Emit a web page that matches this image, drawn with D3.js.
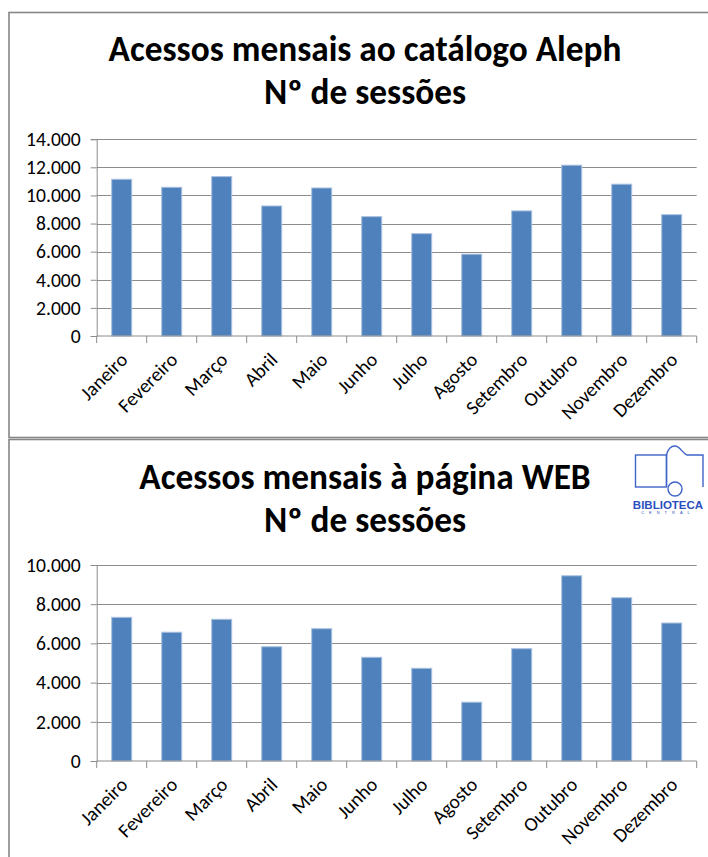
<!DOCTYPE html>
<html>
<head>
<meta charset="utf-8">
<script src="https://cdn.jsdelivr.net/npm/d3@7"></script>
<style>
    body { margin: 0; background: #fff; }
    svg { display: block; }
</style>
</head>
<body>
<svg id="chart" width="708" height="857"></svg>
<script>
const months = ['Janeiro', 'Fevereiro', 'Março', 'Abril', 'Maio', 'Junho',
    'Julho', 'Agosto', 'Setembro', 'Outubro', 'Novembro', 'Dezembro'];
const alephSessions = [11150, 10580, 11340, 9250, 10530, 8490, 7280, 5820, 8900, 12150, 10800, 8630];
const webSessions = [7330, 6570, 7230, 5830, 6750, 5290, 4730, 3000, 5730, 9450, 8330, 7040];
const alephTicks = [0, 2000, 4000, 6000, 8000, 10000, 12000, 14000];
const webTicks = [0, 2000, 4000, 6000, 8000, 10000];
const alephTitle = ['Acessos mensais ao catálogo Aleph', 'Nº de sessões'];
const webTitle = ['Acessos mensais à página WEB', 'Nº de sessões'];

// Carlito is metric-compatible with Calibri
const FONT = 'Carlito, Lato, sans-serif';
const BAR = '#4f81bd';
const GRID = '#8c8c8c';

let pt = d3.formatLocale({ decimal: ',', thousands: '.', grouping: [3], currency: ['', ''] });
let fmt = pt.format(',d');

let svg = d3.select('#chart');

// chart frames (both run off the right edge, the lower one off the bottom)
svg.append('rect')
    .attr('x', 9).attr('y', 12.5).attr('width', 730).attr('height', 425)
    .attr('fill', 'none').attr('stroke', '#868686').attr('stroke-width', 1.6);
svg.append('rect')
    .attr('x', 9).attr('y', 439.5).attr('width', 730).attr('height', 440)
    .attr('fill', 'none').attr('stroke', '#868686').attr('stroke-width', 1.6);

drawChart(svg.append('g'), {
    title: alephTitle, titleY: 61, values: alephSessions, ticks: alephTicks,
    top: 139.2, bottom: 336
});
drawChart(svg.append('g'), {
    title: webTitle, titleY: 489, values: webSessions, ticks: webTicks,
    top: 565, bottom: 761
});
drawLogo(svg.append('g').attr('transform', 'translate(635,445)'));

function drawChart(g, cfg) {
    let left = 96.7, right = 696.7;

    g.selectAll('.title')
        .data(cfg.title)
        .join('text')
        .attr('class', 'title')
        .attr('x', 365)
        .attr('y', (d, i) => cfg.titleY + i * 43)
        .attr('text-anchor', 'middle')
        .style('font-family', FONT)
        .style('font-weight', 'bold')
        .style('font-size', '35.3px')
        .attr('fill', '#000')
        .text(d => d);

    let x = d3.scaleBand()
        .domain(months)
        .range([left, right])
        .paddingInner(0.6)
        .paddingOuter(0.3);
    let y = d3.scaleLinear()
        .domain([0, d3.max(cfg.ticks)])
        .range([cfg.bottom, cfg.top]);

    // gridlines
    g.append('g')
        .selectAll('line')
        .data(cfg.ticks.filter(t => t > 0))
        .join('line')
        .attr('x1', left).attr('x2', right)
        .attr('y1', d => Math.round(y(d)) + 0.5)
        .attr('y2', d => Math.round(y(d)) + 0.5)
        .attr('stroke', GRID);

    g.append('g')
        .selectAll('rect')
        .data(cfg.values)
        .join('rect')
        .attr('x', (d, i) => x(months[i]))
        .attr('width', x.bandwidth())
        .attr('y', d => y(d))
        .attr('height', d => y(0) - y(d))
        .attr('fill', BAR)
        .attr('stroke', '#a9c1df')
        .attr('stroke-width', 1);

    let yAxis = g.append('g')
        .attr('transform', `translate(${left},0)`)
        .call(d3.axisLeft(y).tickValues(cfg.ticks).tickFormat(fmt).tickSize(6).tickPadding(10));
    yAxis.select('.domain').attr('stroke', GRID);
    yAxis.selectAll('.tick line').attr('stroke', GRID);
    yAxis.selectAll('text')
        .style('font-family', FONT)
        .style('font-size', '19.6px')
        .attr('fill', '#000');

    // x axis with ticks between the categories
    let xAxis = g.append('g')
        .attr('transform', `translate(0,${cfg.bottom})`);
    xAxis.append('line')
        .attr('x1', left).attr('x2', right)
        .attr('stroke', GRID);
    let step = x.step();
    xAxis.selectAll('.tk')
        .data(d3.range(months.length + 1))
        .join('line')
        .attr('class', 'tk')
        .attr('x1', i => left + i * step)
        .attr('x2', i => left + i * step)
        .attr('y1', 0).attr('y2', 7)
        .attr('stroke', GRID);
    xAxis.selectAll('.lbl')
        .data(months)
        .join('text')
        .attr('class', 'lbl')
        .attr('transform', d => `translate(${x(d) + x.bandwidth() / 2 + 7},25) rotate(-45)`)
        .attr('text-anchor', 'end')
        .style('font-family', FONT)
        .style('font-size', '19.6px')
        .attr('fill', '#000')
        .text(d => d);
}

function drawLogo(g) {
    let blue = '#3f63c8';
    g.append('rect')
        .attr('x', 0.5).attr('y', 10).attr('width', 31).attr('height', 32)
        .attr('fill', 'none').attr('stroke', blue).attr('stroke-width', 1.4);
    g.append('path')
        .attr('d', 'M31.5,42 L31.5,10 C33,4 36,1 40,1 C45,1 47,8 52,10 L68,10 L68,42')
        .attr('fill', 'none').attr('stroke', blue).attr('stroke-width', 1.4);
    g.append('circle')
        .attr('cx', 40).attr('cy', 44).attr('r', 7)
        .attr('fill', '#fff').attr('stroke', blue).attr('stroke-width', 1.4);
    g.append('text')
        .attr('x', 33).attr('y', 63.5)
        .attr('text-anchor', 'middle')
        .style('font-family', '"Liberation Sans", Arial, sans-serif')
        .style('font-weight', 'bold')
        .style('font-size', '11.5px')
        .attr('fill', '#2b4fbf')
        .text('BIBLIOTECA');
    g.append('text')
        .attr('x', 33).attr('y', 68.5)
        .attr('text-anchor', 'middle')
        .style('font-family', '"Liberation Sans", Arial, sans-serif')
        .style('font-size', '4px')
        .style('letter-spacing', '5px')
        .attr('fill', '#2b4fbf')
        .text('CENTRAL');
}
</script>
</body>
</html>
